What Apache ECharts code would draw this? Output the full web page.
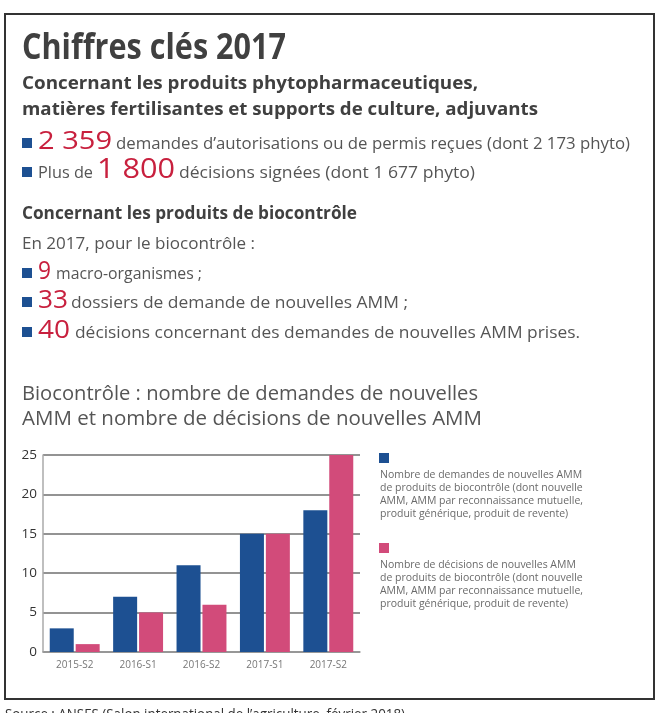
<!DOCTYPE html>
<html><head><meta charset="utf-8">
<script src="https://cdn.jsdelivr.net/npm/echarts@6/dist/echarts.min.js"></script>
<style>html,body{margin:0;padding:0;background:#fff}#c{width:659px;height:713px}</style>
</head><body><div id="c"></div>
<script>
// ---- data ----
const categories = ['2015-S2', '2016-S1', '2016-S2', '2017-S1', '2017-S2'];
const demandes = [3, 7, 11, 15, 18];
const decisions = [1, 5, 6, 15, 25];
const yTicks = [0, 5, 10, 15, 20, 25];
const seriesNames = [
  ['Nombre de demandes de nouvelles AMM', 'de produits de biocontrôle (dont nouvelle', 'AMM, AMM par reconnaissance mutuelle,', 'produit générique, produit de revente)'],
  ['Nombre de décisions de nouvelles AMM', 'de produits de biocontrôle (dont nouvelle', 'AMM, AMM par reconnaissance mutuelle,', 'produit générique, produit de revente)']
];
const colors = ['#1d5092', '#d24b7a'];
const RED = '#c8203e';
const GRAY = '#555';
const DARK = '#404040';
const FONT = '"Open Sans", sans-serif';

// ---- text helpers ----
const mctx = document.createElement('canvas').getContext('2d');
function fontStr(size, w) { return (w || 'normal') + ' ' + size + 'px ' + FONT; }
function tw(t, f) { mctx.font = f; return mctx.measureText(t).width; }
// text squeezed/stretched to span x0..x1, sitting on baseline `base`
function seg(base, t, x0, x1, size, w, c) {
  const f = fontStr(size, w);
  const s = (x1 - x0) / tw(t, f);
  return { type: 'text', x: x0, y: base - 0.285 * size, scaleX: s, scaleY: 1,
    style: { text: t, font: f, fill: c, verticalAlign: 'middle', align: 'left' } };
}
function sq(base, c) { return { type: 'rect', shape: { x: 22, y: base - 11, width: 10, height: 10 }, style: { fill: c } }; }

const g = [];
g.push({ type: 'rect', shape: { x: 5, y: 14, width: 649, height: 685 }, style: { fill: 'none', stroke: '#333', lineWidth: 2 }, z: 0 });
g.push(seg(59, 'Chiffres clés 2017', 22, 286, 36, 'bold', DARK));
g.push(seg(89, 'Concernant les produits phytopharmaceutiques,', 22, 478, 18, 'bold', DARK));
g.push(seg(115, 'matières fertilisantes et supports de culture, adjuvants', 22, 538, 18, 'bold', DARK));
g.push(sq(149, colors[0]), seg(149, '2 359', 38, 112, 25, 'normal', RED), seg(149, 'demandes d’autorisations ou de permis reçues (dont 2 173 phyto)', 116, 630, 17, 'normal', GRAY));
g.push(sq(178, colors[0]), seg(178, 'Plus de', 38, 93, 17, 'normal', GRAY), seg(178, '1 800', 97, 175, 27, 'normal', RED), seg(178, 'décisions signées (dont 1 677 phyto)', 179, 475, 17, 'normal', GRAY));
g.push(seg(219, 'Concernant les produits de biocontrôle', 22, 357, 18, 'bold', DARK));
g.push(seg(249, 'En 2017, pour le biocontrôle :', 22, 255, 17, 'normal', GRAY));
g.push(sq(279, colors[0]), seg(279, '9', 38, 51, 25, 'normal', RED), seg(279, 'macro-organismes ;', 56, 202, 17, 'normal', GRAY));
g.push(sq(308, colors[0]), seg(308, '33', 38, 68, 25, 'normal', RED), seg(308, 'dossiers de demande de nouvelles AMM ;', 71, 408, 17, 'normal', GRAY));
g.push(sq(338, colors[0]), seg(338, '40', 38, 70, 25, 'normal', RED), seg(338, 'décisions concernant des demandes de nouvelles AMM prises.', 75, 580, 17, 'normal', GRAY));
g.push(seg(400, 'Biocontrôle : nombre de demandes de nouvelles', 22, 478, 20, 'normal', GRAY));
g.push(seg(425, 'AMM et nombre de décisions de nouvelles AMM', 22, 482, 20, 'normal', GRAY));
// legend
const legTop = [453, 543];
seriesNames.forEach((lines, i) => {
  g.push({ type: 'rect', shape: { x: 379, y: legTop[i], width: 10, height: 10 }, style: { fill: colors[i] } });
  const f = fontStr(10.5);
  const s = 203 / tw(lines[2], f);
  lines.forEach((ln, j) => {
    g.push({ type: 'text', x: 380, y: legTop[i] + 22 + j * 13, scaleX: s, style: { text: ln, font: f, fill: '#6a6a6a', verticalAlign: 'middle' } });
  });
});
g.push(seg(719, 'Source : ANSES (Salon international de l’agriculture, février 2018)', 5, 405, 14, 'normal', '#333'));

const chart = echarts.init(document.getElementById('c'), null, { renderer: 'canvas' });
chart.setOption({
  animation: false,
  backgroundColor: '#fff',
  grid: { left: 43, right: 299, top: 455, bottom: 61 },
  xAxis: {
    type: 'category', data: categories,
    axisLine: { lineStyle: { color: '#999', width: 1.5 } },
    axisTick: { show: false },
    axisLabel: { fontSize: 10, color: '#777', fontFamily: FONT, margin: 8 }
  },
  yAxis: {
    type: 'value', min: yTicks[0], max: yTicks[yTicks.length - 1], interval: yTicks[1] - yTicks[0],
    axisLine: { show: true, lineStyle: { color: '#aaa', width: 1.5 } },
    axisTick: { show: false },
    splitLine: { lineStyle: { color: '#6f6f6f', width: 1.5 } },
    axisLabel: { fontSize: 13.5, color: '#333', fontFamily: FONT, margin: 6 }
  },
  series: [
    { type: 'bar', name: seriesNames[0].join(' '), data: demandes, barWidth: 24, barGap: '8%', itemStyle: { color: colors[0] } },
    { type: 'bar', name: seriesNames[1].join(' '), data: decisions, barWidth: 24, itemStyle: { color: colors[1] } }
  ],
  graphic: g
});
</script></body></html>
